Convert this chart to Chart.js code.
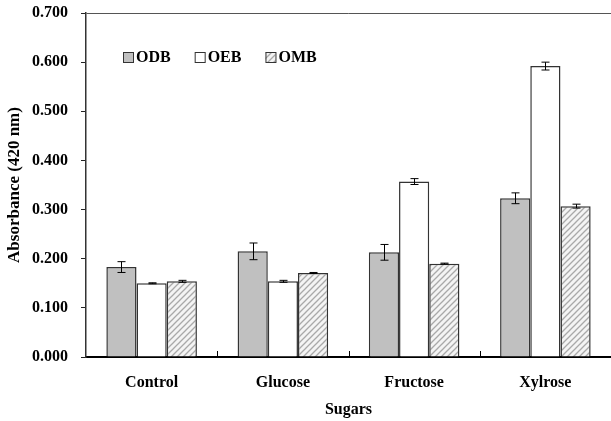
<!DOCTYPE html>
<html>
<head>
<meta charset="utf-8">
<script src="https://cdn.jsdelivr.net/npm/chart.js@4/dist/chart.umd.min.js"></script>
<style>
  html, body { margin: 0; padding: 0; background: #fff; }
  #wrap { width: 611px; height: 421px; position: relative; }
</style>
</head>
<body>
<div id="wrap"><canvas id="sugarChart"></canvas></div>
<script>
// values
var categories = ["Control", "Glucose", "Fructose", "Xylrose"];
var seriesNames = ["ODB", "OEB", "OMB"];
var odbValues = [0.183, 0.215, 0.213, 0.323];
var oebValues = [0.150, 0.154, 0.357, 0.592];
var ombValues = [0.154, 0.171, 0.190, 0.307];
var odbErrors = [0.011, 0.017, 0.016, 0.011];
var oebErrors = [0.001, 0.002, 0.006, 0.008];
var ombErrors = [0.002, 0.001, 0.001, 0.004];
var yTicks = [0, 0.1, 0.2, 0.3, 0.4, 0.5, 0.6, 0.7];

var serif = "'Liberation Serif', 'Times New Roman', serif";

function makeHatch() {
	var pc = document.createElement("canvas");
	pc.width = 6;
	pc.height = 6;
	var c = pc.getContext("2d");
	c.fillStyle = "#f4f4f4";
	c.fillRect(0, 0, 6, 6);
	c.strokeStyle = "#a9a9a9";
	c.lineWidth = 1.3;
	c.beginPath();
	c.moveTo(0, 6); c.lineTo(6, 0);
	c.moveTo(-3, 3); c.lineTo(3, -3);
	c.moveTo(3, 9); c.lineTo(9, 3);
	c.stroke();
	return c.createPattern(pc, "repeat");
}

var errorBars = {
	id: "errorBars",
	afterDatasetsDraw: function(chart) {
		var ctx = chart.ctx;
		var yScale = chart.scales.y;
		ctx.save();
		ctx.strokeStyle = "#000";
		ctx.lineWidth = 1;
		chart.data.datasets.forEach(function(ds, di) {
			var meta = chart.getDatasetMeta(di);
			meta.data.forEach(function(bar, i) {
				var v = ds.data[i], e = ds.errors[i];
				var yTop = yScale.getPixelForValue(v + e);
				var yBot = yScale.getPixelForValue(v - e);
				var x = Math.round(bar.x) + 0.5;
				ctx.beginPath();
				ctx.moveTo(x, yTop); ctx.lineTo(x, yBot);
				ctx.moveTo(x - 4, yTop); ctx.lineTo(x + 4, yTop);
				ctx.moveTo(x - 4, yBot); ctx.lineTo(x + 4, yBot);
				ctx.stroke();
			});
		});
		ctx.restore();
	}
};

var frameBits = {
	id: "frameBits",
	afterDraw: function(chart) {
		var ctx = chart.ctx;
		var area = chart.chartArea;
		var xScale = chart.scales.x;
		ctx.save();
		// short inward ticks between categories
		ctx.strokeStyle = "#000";
		ctx.lineWidth = 1;
		for (var i = 1; i < categories.length; i++) {
			var x = Math.round(xScale.getPixelForValue(i - 0.5)) + 0.5;
			ctx.beginPath();
			ctx.moveTo(x, area.bottom);
			ctx.lineTo(x, area.bottom - 6);
			ctx.stroke();
		}
		// legend inside the plot
		ctx.font = "bold 16px " + serif;
		ctx.textBaseline = "middle";
		var lx = area.left + 37;
		var ly = area.top + 44;
		chart.data.datasets.forEach(function(ds) {
			ctx.fillStyle = ds.backgroundColor;
			ctx.fillRect(lx, ly - 5, 10, 10);
			ctx.strokeStyle = "#333";
			ctx.lineWidth = 1;
			ctx.strokeRect(lx + 0.5, ly - 4.5, 10, 10);
			ctx.fillStyle = "#000";
			ctx.fillText(ds.label, lx + 13, ly + 1);
			lx += 13 + ctx.measureText(ds.label).width + 24;
		});
		ctx.restore();
	}
};

var hatch = makeHatch();

var config = {
	type: "bar",
	data: {
		labels: categories,
		datasets: [
			{ label: seriesNames[0], data: odbValues, errors: odbErrors, backgroundColor: "#c0c0c0" },
			{ label: seriesNames[1], data: oebValues, errors: oebErrors, backgroundColor: "#ffffff" },
			{ label: seriesNames[2], data: ombValues, errors: ombErrors, backgroundColor: hatch }
		]
	},
	options: {
		responsive: true,
		maintainAspectRatio: false,
		animation: false,
		layout: { padding: { top: 13, right: 0, left: 0, bottom: 0 } },
		datasets: {
			bar: {
				borderColor: "#333",
				borderWidth: 1.5,
				categoryPercentage: 0.69,
				barPercentage: 1.0
			}
		},
		plugins: {
			legend: { display: false },
			tooltip: { enabled: false }
		},
		scales: {
			x: {
				grid: { display: false, drawTicks: false },
				border: { display: true, color: "#000", width: 2 },
				ticks: {
					color: "#000",
					padding: 16,
					font: { family: serif, size: 16, weight: "bold" }
				},
				title: {
					display: true,
					text: "Sugars",
					color: "#000",
					padding: { top: 0, bottom: 2 },
					font: { family: serif, size: 16, weight: "bold" }
				},
				afterFit: function(scale) {
					scale.height = 64;
					scale.paddingLeft = 0;
					scale.paddingRight = 0;
				}
			},
			y: {
				min: 0,
				max: 0.7,
				afterBuildTicks: function(scale) {
					scale.ticks = yTicks.map(function(v) { return { value: v }; });
				},
				grid: {
					drawOnChartArea: true,
					drawTicks: true,
					tickLength: 5,
					tickColor: "#222",
					color: function(ctx) {
						return ctx.tick && ctx.tick.value === 0.7 ? "#555" : "rgba(0,0,0,0)";
					}
				},
				border: { display: true, color: "#333", width: 1.5 },
				ticks: {
					color: "#000",
					padding: 13,
					font: { family: serif, size: 16, weight: "bold" },
					callback: function(v) { return Number(v).toFixed(3); }
				},
				title: {
					display: true,
					text: "Absorbance (420 nm)",
					color: "#000",
					padding: { top: 4, bottom: 0 },
					font: { family: serif, size: 17, weight: "bold" }
				},
				afterFit: function(scale) {
					scale.width = 86;
					scale.paddingTop = 0;
					scale.paddingBottom = 0;
				}
			}
		}
	},
	plugins: [errorBars, frameBits]
};

new Chart(document.getElementById("sugarChart"), config);
</script>
</body>
</html>
